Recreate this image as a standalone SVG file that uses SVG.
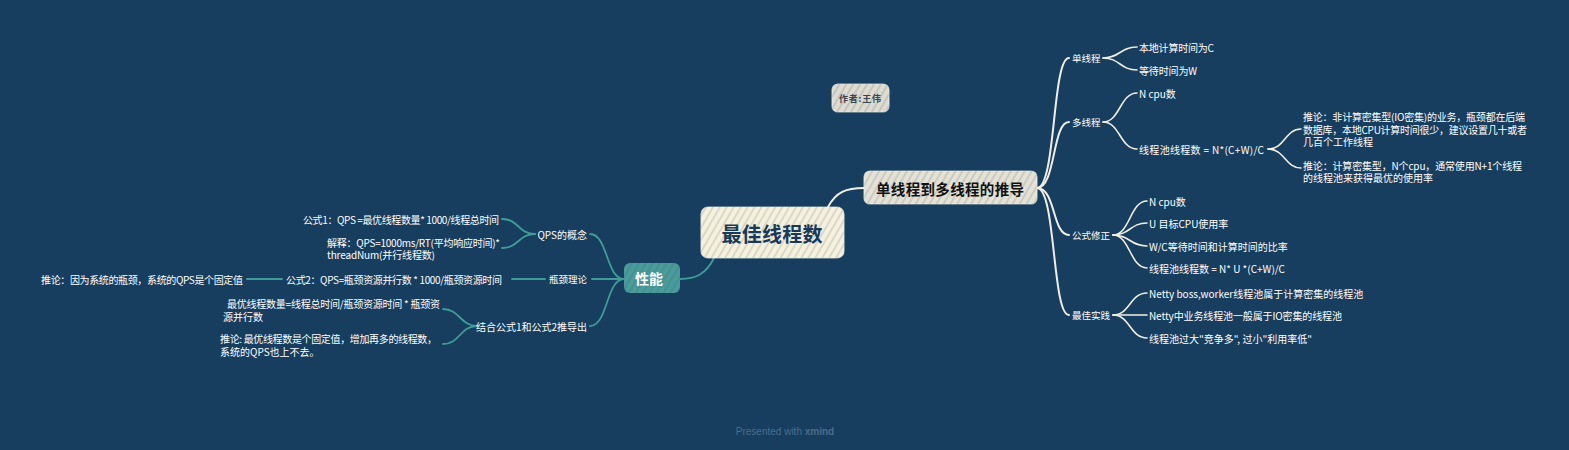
<svg xmlns="http://www.w3.org/2000/svg" width="1569" height="450" viewBox="0 0 1569 450">
<defs>
<pattern id="hatch" patternUnits="userSpaceOnUse" width="6" height="6" patternTransform="rotate(30)">
<line x1="1" y1="0" x2="1" y2="6" stroke="#1d3a55" stroke-width="0.8" stroke-opacity="0.35"/>
</pattern>
<pattern id="hatchL" patternUnits="userSpaceOnUse" width="6" height="6" patternTransform="rotate(30)">
<line x1="1" y1="0" x2="1" y2="6" stroke="#1f4f5c" stroke-width="0.8" stroke-opacity="0.35"/>
</pattern>
<style>
.t{font-family:"Noto Sans CJK SC","Noto Sans",sans-serif;font-size:10px;fill:#ffffff;dominant-baseline:central}
.s{font-size:9.5px}
.e{text-anchor:end}
.w{fill:none;stroke:#f1eee4;stroke-width:1.6;stroke-linecap:round}
.wm{fill:none;stroke:#f1eee4;stroke-width:2;stroke-linecap:round}
.g{fill:none;stroke:#3f9c99;stroke-width:1.8;stroke-linecap:round}
.box{stroke:#f4f1e6;stroke-width:1.2;stroke-opacity:0.7}
.bt{font-family:"Noto Sans CJK SC","Noto Sans",sans-serif;font-weight:bold;text-anchor:middle;dominant-baseline:central}
</style>
</defs>
<rect width="1569" height="450" fill="#173e5e"/>

<g id="connectors">
<path class="wm" d="M828,207 C836,192 846,188 864,188"/>
<path class="g" d="M714,258 C706,274 696,279 680,279"/>
<path class="wm" d="M1037,188 C1056,188 1052,58 1069,58"/>
<path class="wm" d="M1037,188 C1056,188 1052,122 1069,122"/>
<path class="wm" d="M1037,188 C1056,188 1052,235 1069,235"/>
<path class="wm" d="M1037,188 C1056,188 1052,315 1069,315"/>
<path class="w" d="M1103,58 C1120,58 1120,47 1137,47"/>
<path class="w" d="M1103,58 C1120,58 1120,70 1137,70"/>
<path class="w" d="M1103,122 C1120,122 1120,93 1137,93"/>
<path class="w" d="M1103,122 C1120,122 1120,149 1137,149"/>
<path class="w" d="M1268,149 C1285,149 1285,129 1301,129"/>
<path class="w" d="M1268,149 C1285,149 1285,168 1301,168"/>
<path class="w" d="M1113,235 C1130,235 1130,201 1147,201"/>
<path class="w" d="M1113,235 C1130,235 1130,223 1147,223"/>
<path class="w" d="M1113,235 C1130,235 1130,246 1147,246"/>
<path class="w" d="M1113,235 C1130,235 1130,268 1147,268"/>
<path class="w" d="M1113,315 C1130,315 1130,293 1147,293"/>
<path class="w" d="M1113,315 L1147,315"/>
<path class="w" d="M1113,315 C1130,315 1130,338 1147,338"/>
<path class="g" d="M624,279 C606,279 608,234 590,234"/>
<path class="g" d="M624,279 L592,279"/>
<path class="g" d="M624,279 C606,279 608,326 590,326"/>
<path class="g" d="M535,234 C518,234 519,219 502,219"/>
<path class="g" d="M535,234 C518,234 519,248 502,248"/>
<path class="g" d="M545,279 L512,279"/>
<path class="g" d="M282,279 L247,279"/>
<path class="g" d="M477,326 C460,326 460,309 443,309"/>
<path class="g" d="M477,326 C460,326 460,344 443,344"/>
</g>

<g id="root">
<rect class="box" x="701" y="207" width="143" height="51" rx="7" fill="#f6f1dd"/>
<rect x="701" y="207" width="143" height="51" rx="7" fill="url(#hatch)"/>
<text class="bt" x="772" y="233" font-size="20" fill="#173a5a" textLength="101">最佳线程数</text>
</g>

<g id="author">
<rect class="box" x="832" y="84" width="57" height="28" rx="6" fill="#dedbd0"/>
<rect x="832" y="84" width="57" height="28" rx="6" fill="url(#hatch)"/>
<text class="bt" x="860" y="98" font-size="9" font-weight="normal" fill="#3a4350" textLength="42">作者:王伟</text>
</g>

<g id="derivation">
<rect class="box" x="864" y="171" width="173" height="33" rx="6" fill="#e5e2d5"/>
<rect x="864" y="171" width="173" height="33" rx="6" fill="url(#hatch)"/>
<text class="bt" x="950" y="188" font-size="14.5" fill="#111111" textLength="148">单线程到多线程的推导</text>
</g>

<g id="perf">
<rect x="624" y="263" width="56" height="30" rx="6" fill="#4a9b99"/>
<rect x="624" y="263" width="56" height="30" rx="6" fill="url(#hatchL)"/>
<text class="bt" x="649" y="278" font-size="14" fill="#ffffff" textLength="28">性能</text>
</g>

<g id="single">
<text class="t s" x="1072" y="58">单线程</text>
</g>
<g id="single-c">
<text class="t" x="1139" y="47" textLength="75">本地计算时间为C</text>
</g>
<g id="single-w">
<text class="t" x="1139" y="70" textLength="58">等待时间为W</text>
</g>

<g id="multi">
<text class="t s" x="1072" y="122">多线程</text>
</g>
<g id="multi-n">
<text class="t" x="1139" y="93">N cpu数</text>
</g>
<g id="multi-pool">
<text class="t" x="1139" y="149" textLength="125">线程池线程数 = N*(C+W)/C</text>
</g>
<g id="infer-io">
<text class="t" x="1303" y="116.5" textLength="222">推论：非计算密集型(IO密集)的业务，瓶颈都在后端</text>
<text class="t" x="1303" y="129" textLength="224">数据库，本地CPU计算时间很少，建议设置几十或者</text>
<text class="t" x="1303" y="141.5">几百个工作线程</text>
</g>
<g id="infer-cpu">
<text class="t" x="1303" y="165.5" textLength="219">推论：计算密集型，N个cpu，通常使用N+1个线程</text>
<text class="t" x="1303" y="177.5">的线程池来获得最优的使用率</text>
</g>

<g id="fix">
<text class="t s" x="1072" y="235">公式修正</text>
</g>
<g id="fix-n"><text class="t" x="1149" y="201">N cpu数</text></g>
<g id="fix-u"><text class="t" x="1149" y="223">U 目标CPU使用率</text></g>
<g id="fix-wc"><text class="t" x="1149" y="246">W/C等待时间和计算时间的比率</text></g>
<g id="fix-pool"><text class="t" x="1149" y="268">线程池线程数 = N* U *(C+W)/C</text></g>

<g id="best">
<text class="t s" x="1072" y="315">最佳实践</text>
</g>
<g id="best-1"><text class="t" x="1149" y="293">Netty boss,worker线程池属于计算密集的线程池</text></g>
<g id="best-2"><text class="t" x="1149" y="315" textLength="193">Netty中业务线程池一般属于IO密集的线程池</text></g>
<g id="best-3"><text class="t" x="1149" y="338" textLength="163">线程池过大"竞争多", 过小"利用率低"</text></g>

<g id="qps">
<text class="t e" x="587" y="234">QPS的概念</text>
</g>
<g id="qps-f1">
<text class="t e" x="499" y="219" textLength="196">公式1：QPS =最优线程数量* 1000/线程总时间</text>
</g>
<g id="qps-explain">
<text class="t" x="327" y="242" textLength="173">解释：QPS=1000ms/RT(平均响应时间)*</text>
<text class="t" x="327" y="254.5" textLength="108">threadNum(并行线程数)</text>
</g>

<g id="bottleneck">
<text class="t s e" x="587" y="279">瓶颈理论</text>
</g>
<g id="bottleneck-f2">
<text class="t e" x="502" y="279" textLength="216">公式2：QPS=瓶颈资源并行数 * 1000/瓶颈资源时间</text>
</g>
<g id="bottleneck-infer">
<text class="t e" x="243" y="279" textLength="202">推论：因为系统的瓶颈，系统的QPS是个固定值</text>
</g>

<g id="combine">
<text class="t e" x="587" y="326">结合公式1和公式2推导出</text>
</g>
<g id="combine-1">
<text class="t" x="227" y="303" textLength="213">最优线程数量=线程总时间/瓶颈资源时间 * 瓶颈资</text>
<text class="t" x="223" y="316">源并行数</text>
</g>
<g id="combine-2">
<text class="t" x="220" y="338" textLength="217">推论: 最优线程数是个固定值，增加再多的线程数，</text>
<text class="t" x="220" y="351">系统的QPS也上不去。</text>
</g>

<text x="785" y="435" text-anchor="middle" font-family="Liberation Sans, sans-serif" font-size="10" fill="#4d6c8a">Presented with <tspan font-weight="bold">xmind</tspan></text>
</svg>
